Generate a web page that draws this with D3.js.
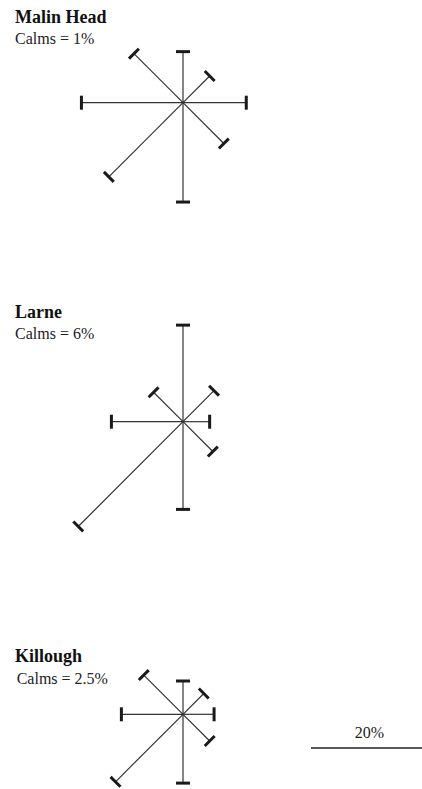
<!DOCTYPE html>
<html>
<head>
<meta charset="utf-8">
<script src="https://cdn.jsdelivr.net/npm/d3@7"></script>
<style>
  body { margin: 0; background: #fff; }
  svg { display: block; font-family: "Liberation Serif", "Times New Roman", serif; }
</style>
</head>
<body>
<div id="chart"></div>
<script>
// wind roses, % frequency per direction
const directions = ['N', 'NE', 'E', 'SE', 'S', 'SW', 'W', 'NW']
const stations = ['Malin Head', 'Larne', 'Killough']
const calms = ['1%', '6%', '2.5%']
const malinHead = [9.2, 6.8, 11.4, 10.4, 17.9, 18.9, 18.3, 12.5]
const larne = [17.4, 7.9, 4.8, 7.6, 15.8, 26.7, 12.9, 7.5]
const killough = [6.0, 5.3, 5.6, 6.8, 12.4, 17.2, 11.1, 10.0]
const scaleValue = 20

const width = 422
const height = 789
const capLen = 14

const rows = [
  { name: stations[0], calm: calms[0], values: malinHead, cy: 102.7, titleY: 23, calmY: 44, calmX: 15 },
  { name: stations[1], calm: calms[1], values: larne, cy: 421.7, titleY: 318.3, calmY: 338.7, calmX: 15 },
  { name: stations[2], calm: calms[2], values: killough, cy: 714.3, titleY: 661.7, calmY: 684.3, calmX: 16.7 }
]

const r = d3.scaleLinear().domain([0, scaleValue]).range([0, 111])
const angle = d3.scalePoint().domain(directions).range([0, 315])

const svg = d3.select('#chart').append('svg')
  .attr('width', width)
  .attr('height', height)

rows.forEach(row => {
  svg.append('text')
    .attr('x', 15)
    .attr('y', row.titleY)
    .attr('font-size', 18)
    .attr('font-weight', 'bold')
    .attr('fill', '#111')
    .text(row.name)

  svg.append('text')
    .attr('x', row.calmX)
    .attr('y', row.calmY)
    .attr('font-size', 16)
    .attr('fill', '#222')
    .text('Calms = ' + row.calm)

  const g = svg.append('g')
    .attr('transform', `translate(183,${row.cy})`)

  const arms = g.selectAll('g.arm')
    .data(row.values.map((v, i) => ({ dir: directions[i], v })))
    .enter().append('g')
    .attr('class', 'arm')
    // rotate so that 0 points north
    .attr('transform', d => `rotate(${angle(d.dir)})`)

  arms.append('line')
    .attr('x1', 0).attr('y1', 0)
    .attr('x2', 0).attr('y2', d => -r(d.v))
    .attr('stroke', '#333')
    .attr('stroke-width', 1.2)

  arms.append('line')
    .attr('x1', -capLen / 2).attr('x2', capLen / 2)
    .attr('y1', d => -r(d.v)).attr('y2', d => -r(d.v))
    .attr('stroke', '#1a1a1a')
    .attr('stroke-width', 3)
})

// scale bar
svg.append('line')
  .attr('x1', 311).attr('x2', 311 + r(scaleValue))
  .attr('y1', 748).attr('y2', 748)
  .attr('stroke', '#222')
  .attr('stroke-width', 1.5)

svg.append('text')
  .attr('x', 311 + r(scaleValue) / 2 + 3)
  .attr('y', 737.7)
  .attr('text-anchor', 'middle')
  .attr('font-size', 16)
  .attr('fill', '#222')
  .text(scaleValue + '%')
</script>
</body>
</html>
